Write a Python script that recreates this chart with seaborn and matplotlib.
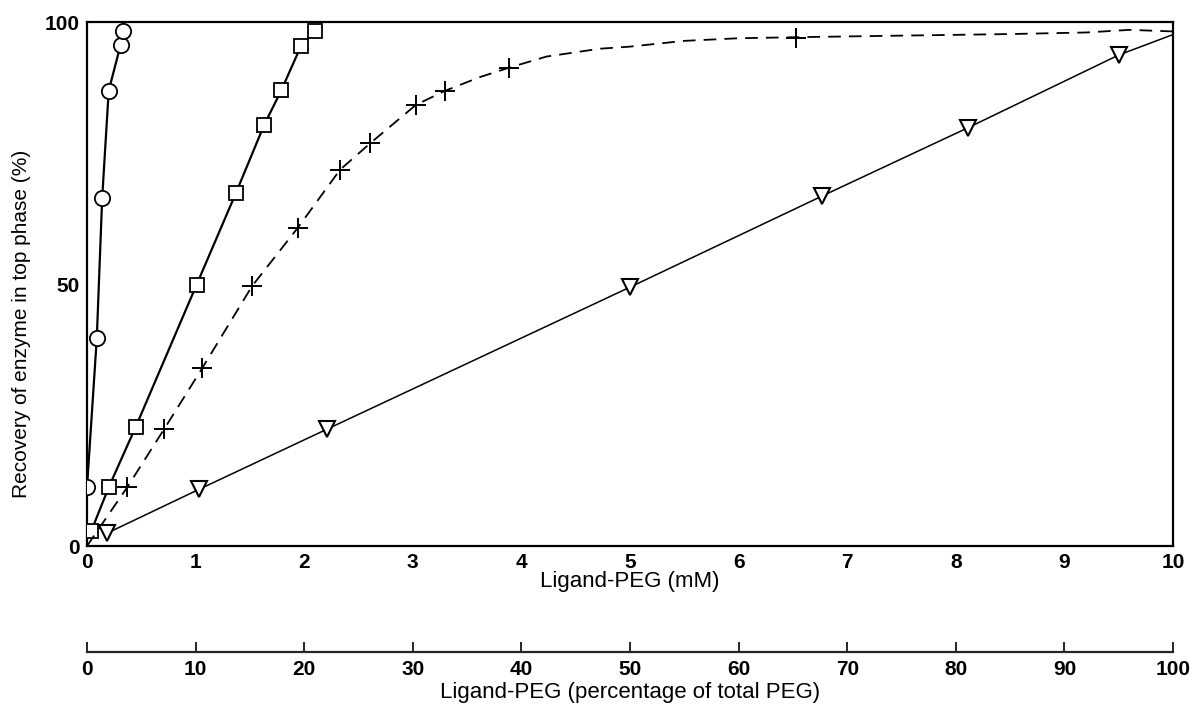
import numpy as np
import pandas as pd
import matplotlib
matplotlib.use("Agg")
import matplotlib.pyplot as plt
import seaborn as sns

# circles
circ_x = [0.0, 0.09, 0.14, 0.20, 0.31, 0.33]
circ_y = [11.2, 39.6, 66.5, 86.9, 95.7, 98.2]
# squares
sq_x = [0.04, 0.20, 0.45, 1.01, 1.37, 1.63, 1.79, 1.97, 2.10]
sq_y = [2.9, 11.2, 22.8, 49.9, 67.3, 80.3, 87.0, 95.4, 98.3]
# crosses
cr_x = [0.37, 0.71, 1.06, 1.52, 1.94, 2.33, 2.61, 3.03, 3.30, 3.89, 6.53]
cr_y = [11.2, 22.3, 33.9, 49.6, 60.7, 71.8, 76.9, 84.2, 86.9, 91.3, 97.0]
# dashed curve drawn through the crosses
curve_x = [0.0, 0.37, 0.71, 1.06, 1.52, 1.94, 2.33, 2.61, 3.03, 3.30, 3.62, 3.89,
           4.23, 4.72, 5.0, 5.5, 6.0, 6.53, 7.5, 8.5, 9.2, 9.6, 10.0]
curve_y = [0.0, 11.2, 22.3, 33.9, 49.6, 60.7, 71.8, 76.9, 84.2, 86.9, 89.5, 91.3,
           93.4, 94.9, 95.3, 96.4, 96.9, 97.1, 97.4, 97.7, 98.0, 98.5, 98.2]
# triangles (last entry is line end at the frame)
tri_x = [0.18, 1.03, 2.21, 5.0, 6.77, 8.11, 9.50, 10.0]
tri_y = [2.4, 10.8, 22.3, 49.4, 66.8, 79.8, 93.7, 97.6]

x_ticks = list(range(0, 11))
y_ticks = list(range(0, 101, 10))
y_ticklabels = ["0", "", "", "", "", "50", "", "", "", "", "100"]
pct_ticks = list(range(0, 101, 10))

sns.set_style("white")
plt.rcParams["font.family"] = ["Liberation Sans", "DejaVu Sans"]
plt.rcParams.update({"text.color": "black", "axes.labelcolor": "black",
                     "xtick.color": "black", "ytick.color": "black"})

fig = plt.figure(figsize=(11.9, 7.15), dpi=100)
ax = fig.add_axes([87/1190, 1 - 546/715, (1173 - 87)/1190, (546 - 22)/715])

open_mk = dict(markerfacecolor="white", markeredgecolor="black", markeredgewidth=1.3)
sns.lineplot(x=circ_x, y=circ_y, ax=ax, color="black", lw=1.6, marker="o",
             markersize=11, zorder=3, **open_mk)
sns.lineplot(x=sq_x, y=sq_y, ax=ax, color="black", lw=1.6, marker="s",
             markersize=10.5, zorder=3, **open_mk)
sns.lineplot(x=curve_x, y=curve_y, ax=ax, color="black", lw=1.3,
             linestyle=(0, (7, 4.5)), zorder=3)
sns.scatterplot(x=cr_x, y=cr_y, ax=ax, color="black", marker="+", s=220,
                linewidth=1.4, zorder=4)
sns.lineplot(x=tri_x, y=tri_y, ax=ax, color="black", lw=1.1, marker="v",
             markersize=12, markevery=list(range(len(tri_x) - 1)), zorder=3,
             markerfacecolor="white", markeredgecolor="black", markeredgewidth=1.5)

ax.set_xlim(0, 10)
ax.set_ylim(0, 100)
ax.set_xticks(x_ticks)
ax.set_yticks(y_ticks)
ax.set_yticklabels(y_ticklabels)
ax.tick_params(direction="in", length=6, width=1.2, labelsize=15, pad=5)
for lab in ax.get_xticklabels() + ax.get_yticklabels():
    lab.set_fontweight("bold")
for s in ax.spines.values():
    s.set_color("black")
    s.set_linewidth(1.6)
ax.set_xlabel("Ligand-PEG (mM)", fontsize=16, labelpad=-1)
ax.set_ylabel("Recovery of enzyme in top phase (%)", fontsize=15)
ax.yaxis.set_label_coords(-0.052, 0.423)

sec = ax.secondary_xaxis((546 - 652) / 524, functions=(lambda v: v * 10, lambda v: v / 10))
sec.set_xticks(pct_ticks)
sec.tick_params(direction="in", length=7, width=1.2, labelsize=15, pad=6)
for lab in sec.get_xticklabels():
    lab.set_fontweight("bold")
sec.spines["bottom"].set_linewidth(1.6)
sec.set_xlabel("Ligand-PEG (percentage of total PEG)", fontsize=16, labelpad=2)

fig.savefig("out.png", dpi=100)
